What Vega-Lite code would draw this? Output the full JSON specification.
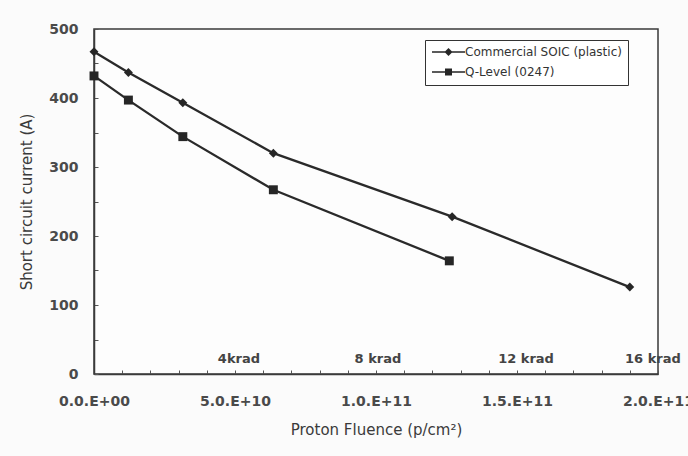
{
  "$schema": "https://vega.github.io/schema/vega-lite/v6.json",
  "width": 564,
  "height": 345,
  "autosize": {"type": "none"},
  "padding": {"left": 94, "top": 29, "right": 30, "bottom": 82},
  "background": "#fbfbfb",
  "config": {
    "font": "DejaVu Sans",
    "view": {"stroke": "#3a3a3a", "strokeWidth": 1.5, "fill": "#fdfdfd"}
  },
  "datasets": {
    "currents": [
      {"series": "Commercial SOIC (plastic)", "fluence": 0, "current": 467},
      {"series": "Commercial SOIC (plastic)", "fluence": 12200000000, "current": 437},
      {"series": "Commercial SOIC (plastic)", "fluence": 31500000000, "current": 393},
      {"series": "Commercial SOIC (plastic)", "fluence": 63600000000, "current": 320},
      {"series": "Commercial SOIC (plastic)", "fluence": 127000000000, "current": 228},
      {"series": "Commercial SOIC (plastic)", "fluence": 190000000000, "current": 126},
      {"series": "Q-Level (0247)", "fluence": 0, "current": 432},
      {"series": "Q-Level (0247)", "fluence": 12200000000, "current": 397},
      {"series": "Q-Level (0247)", "fluence": 31500000000, "current": 344},
      {"series": "Q-Level (0247)", "fluence": 63600000000, "current": 267},
      {"series": "Q-Level (0247)", "fluence": 126000000000, "current": 164}
    ],
    "doses": [
      {"label": "4krad", "fluence": 51400000000, "current": 22},
      {"label": "8 krad", "fluence": 100700000000, "current": 22},
      {"label": "12 krad", "fluence": 153200000000, "current": 22},
      {"label": "16 krad", "fluence": 198200000000, "current": 22}
    ]
  },
  "encoding": {
    "x": {
      "field": "fluence",
      "type": "quantitative",
      "scale": {"domain": [0, 200000000000], "nice": false, "zero": false},
      "axis": {
        "title": "Proton Fluence (p/cm²)",
        "values": [0, 10000000000, 20000000000, 30000000000, 40000000000, 50000000000, 60000000000, 70000000000, 80000000000, 90000000000, 100000000000, 110000000000, 120000000000, 130000000000, 140000000000, 150000000000, 160000000000, 170000000000, 180000000000, 190000000000, 200000000000],
        "labelExpr": "datum.value == 0 ? '0.0.E+00' : datum.value == 50000000000 ? '5.0.E+10' : datum.value == 100000000000 ? '1.0.E+11' : datum.value == 150000000000 ? '1.5.E+11' : datum.value == 200000000000 ? '2.0.E+11' : ''",
        "grid": false,
        "domainColor": "#3a3a3a",
        "domainWidth": 1.5,
        "tickColor": "#555",
        "tickSize": -4,
        "tickWidth": 1,
        "labelPadding": 24,
        "labelFont": "DejaVu Sans",
        "labelFontSize": 14,
        "labelFontWeight": "bold",
        "labelColor": "#4a4a4a",
        "labelOverlap": false,
        "labelBound": false,
        "labelFlush": false,
        "titleFont": "DejaVu Sans",
        "titleFontSize": 15,
        "titleFontWeight": "normal",
        "titleColor": "#3a3a3a",
        "titlePadding": 14
      }
    },
    "y": {
      "field": "current",
      "type": "quantitative",
      "scale": {"domain": [0, 500], "nice": false},
      "axis": {
        "title": "Short circuit  current (A)",
        "values": [0, 50, 100, 150, 200, 250, 300, 350, 400, 450, 500],
        "labelExpr": "datum.value % 100 === 0 ? datum.label : ''",
        "grid": false,
        "domainColor": "#3a3a3a",
        "domainWidth": 1.5,
        "tickColor": "#555",
        "tickSize": -4,
        "tickWidth": 1,
        "labelPadding": 20,
        "labelFont": "DejaVu Sans",
        "labelFontSize": 14,
        "labelFontWeight": "bold",
        "labelColor": "#4a4a4a",
        "labelOverlap": false,
        "labelBound": false,
        "titleFont": "DejaVu Sans",
        "titleFontSize": 15,
        "titleFontWeight": "normal",
        "titleColor": "#3a3a3a",
        "titlePadding": 14
      }
    }
  },
  "layer": [
    {
      "data": {"name": "currents"},
      "mark": {"type": "line", "color": "#2a2a2a", "strokeWidth": 2.3},
      "encoding": {"detail": {"field": "series"}}
    },
    {
      "data": {"name": "currents"},
      "mark": {"type": "point", "filled": true, "color": "#262626", "opacity": 1, "size": 80},
      "encoding": {
        "shape": {
          "field": "series",
          "type": "nominal",
          "scale": {"domain": ["Commercial SOIC (plastic)", "Q-Level (0247)"], "range": ["diamond", "square"]},
          "legend": null
        }
      }
    },
    {
      "data": {"name": "currents"},
      "mark": {"type": "point", "filled": true, "color": "#262626", "opacity": 0, "size": 0},
      "encoding": {
        "shape": {
          "field": "series",
          "type": "nominal",
          "scale": {
            "domain": ["Commercial SOIC (plastic)", "Q-Level (0247)"],
            "range": [
              "M-1,-0.16H5.6V0.16H-1ZM2.3,-0.8L3.1,0L2.3,0.8L1.5,0Z",
              "M-1,-0.16H5.6V0.16H-1ZM1.6,-0.7H3V0.7H1.6Z"
            ]
          },
          "legend": {
            "title": null,
            "orient": "none",
            "legendX": 331,
            "legendY": 11,
            "strokeColor": "#333",
            "fillColor": "#ffffff",
            "padding": 6,
            "symbolSize": 100,
            "symbolOpacity": 1,
            "symbolFillColor": "#2a2a2a",
            "labelOffset": 22,
            "rowPadding": 6,
            "labelFont": "DejaVu Sans",
            "labelFontSize": 12,
            "labelColor": "#333"
          }
        }
      }
    },
    {
      "data": {"name": "doses"},
      "mark": {"type": "text", "font": "DejaVu Sans", "fontSize": 13, "fontWeight": "bold", "color": "#444", "baseline": "middle", "align": "center"},
      "encoding": {"text": {"field": "label"}}
    }
  ],
  "resolve": {"scale": {"shape": "independent"}, "legend": {"shape": "independent"}}
}
